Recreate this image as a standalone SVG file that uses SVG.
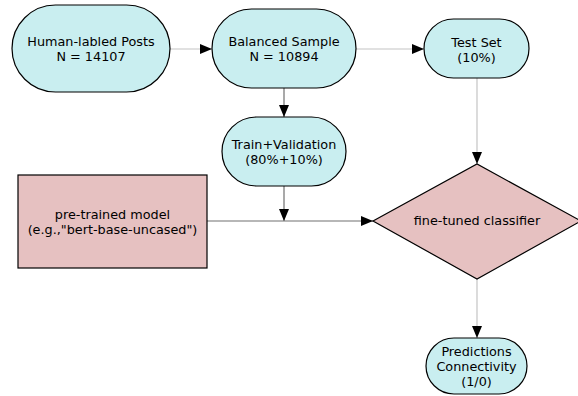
<svg xmlns="http://www.w3.org/2000/svg" width="578" height="396" viewBox="0 0 578 396">
<style>
.term{fill:#c9eef0;stroke:#000;stroke-width:1.2}
.pink{fill:#e6c1c1;stroke:#000;stroke-width:1.2}
text{font-family:"DejaVu Sans","Liberation Sans",sans-serif;font-size:12.8px;fill:#000;text-anchor:middle}
.lt{stroke:#c4c4c4;stroke-width:1.2;fill:none}
.dk{stroke:#707070;stroke-width:1.2;fill:none}
</style>
<defs>
<marker id="ah" markerWidth="12" markerHeight="10" refX="12" refY="5" orient="auto" markerUnits="userSpaceOnUse">
<path d="M0,0 L12,5 L0,10 Z" fill="#000"/>
</marker>
</defs>
<g id="connectors">
<line class="lt" x1="170" y1="49" x2="212" y2="49" marker-end="url(#ah)"/>
<line class="lt" x1="356" y1="49" x2="424" y2="49" marker-end="url(#ah)"/>
<line class="dk" x1="284" y1="88" x2="284" y2="117" marker-end="url(#ah)"/>
<line class="lt" x1="477" y1="78" x2="477" y2="164" marker-end="url(#ah)"/>
<line class="dk" x1="284" y1="186" x2="284" y2="221" marker-end="url(#ah)"/>
<line class="dk" x1="207" y1="221" x2="373" y2="221" marker-end="url(#ah)"/>
<line class="lt" x1="477" y1="279" x2="477" y2="338" marker-end="url(#ah)"/>
</g>
<g id="human">
<rect class="term" x="12" y="5" width="158" height="87" rx="43.5"/>
<text x="91" y="46">Human-labled Posts</text>
<text x="91" y="61">N = 14107</text>
</g>
<g id="balanced">
<rect class="term" x="212" y="9" width="144" height="79" rx="39.5"/>
<text x="284" y="46">Balanced Sample</text>
<text x="284" y="61">N = 10894</text>
</g>
<g id="test">
<rect class="term" x="424" y="19" width="105" height="59" rx="29.5"/>
<text x="476.5" y="47">Test Set</text>
<text x="476.5" y="62">(10%)</text>
</g>
<g id="train">
<rect class="term" x="222" y="117" width="124" height="69" rx="34.5"/>
<text x="284" y="149">Train+Validation</text>
<text x="284" y="164">(80%+10%)</text>
</g>
<g id="pretrained">
<rect class="pink" x="18" y="175" width="189" height="93"/>
<text x="112.5" y="219">pre-trained model</text>
<text x="112.5" y="234">(e.g.,"bert-base-uncased")</text>
</g>
<g id="classifier">
<polygon class="pink" points="373,221 477,164 581,221 477,279"/>
<text x="477" y="225">fine-tuned classifier</text>
</g>
<g id="predictions">
<rect class="term" x="426" y="338" width="101" height="56" rx="28"/>
<text x="476.5" y="356">Predictions</text>
<text x="476.5" y="371">Connectivity</text>
<text x="476.5" y="386">(1/0)</text>
</g>
</svg>
